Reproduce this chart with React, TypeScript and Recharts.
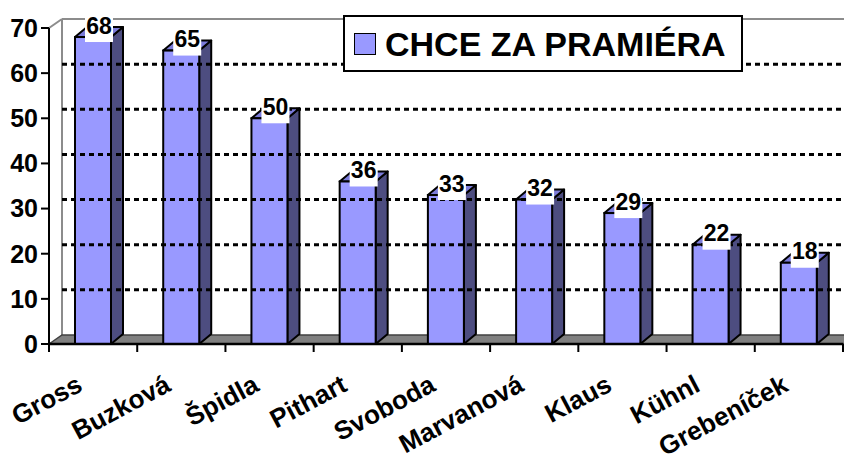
import React from 'react';
import { BarChart, Bar, XAxis, YAxis, ReferenceLine, ReferenceArea, LabelList, Legend } from 'recharts';

const categories = ['Gross', 'Buzková', 'Špidla', 'Pithart', 'Svoboda', 'Marvanová', 'Klaus', 'Kühnl', 'Grebeníček'];
const values = [68, 65, 50, 36, 33, 32, 29, 22, 18];
const yTicks = [0, 10, 20, 30, 40, 50, 60, 70];
const seriesName = 'CHCE ZA PRAMIÉRA';

const data = categories.map((name, i) => ({ name, value: values[i] }));

const FONT = '"Liberation Sans", Arial, sans-serif';
const FRONT = '#9999FF';
const SIDE = '#4D4D80';
const TOP = '#7B7BD9';
const WALL = '#8C8C8C';
const WDX = 13;
const WDY = 9;
const BDX = 12;
const BDY = 10;

const Bar3D = (props: any) => {
  const { x, y, width, height } = props;
  if (width == null || height == null) return null;
  const side = `${x + width},${y} ${x + width + BDX},${y - BDY} ${x + width + BDX},${y + height - BDY} ${x + width},${y + height}`;
  const top = `${x},${y} ${x + BDX},${y - BDY} ${x + width + BDX},${y - BDY} ${x + width},${y}`;
  return (
    <g>
      <polygon points={side} fill={SIDE} stroke="#000" strokeWidth={2} strokeLinejoin="round" />
      <polygon points={top} fill={TOP} stroke="#000" strokeWidth={2} strokeLinejoin="round" />
      <rect x={x} y={y} width={width} height={height} fill={FRONT} stroke="#000" strokeWidth={2} />
    </g>
  );
};

const WallsAndFloor = (props: any) => {
  const { x, y, width, height } = props;
  const n = categories.length;
  const bottom = y + height;
  const floor = `${x},${bottom} ${x + WDX},${bottom - WDY} ${x + width + WDX},${bottom - WDY} ${x + width},${bottom}`;
  const ticks = [];
  for (let k = 0; k <= n; k++) {
    const tx = x + (width * k) / n;
    ticks.push(<line key={k} x1={tx} y1={bottom} x2={tx} y2={bottom + 8} stroke="#000" strokeWidth={2} />);
  }
  return (
    <g>
      <line x1={x} y1={y} x2={x + WDX} y2={y - WDY} stroke={WALL} strokeWidth={2} />
      <line x1={x + WDX} y1={y - WDY} x2={x + width + WDX} y2={y - WDY} stroke={WALL} strokeWidth={2} />
      <line x1={x + WDX} y1={y - WDY} x2={x + WDX} y2={bottom - WDY} stroke={WALL} strokeWidth={2} />
      <polygon points={floor} fill="#808080" stroke="#404040" strokeWidth={1.5} />
      {ticks}
    </g>
  );
};

const GridBack = (props: any) => {
  const { x1, y1, x2, y2 } = props;
  if (x1 == null) return null;
  const a = Math.min(x1, x2);
  const b = Math.max(x1, x2);
  return (
    <line x1={a + WDX} y1={y1 - WDY} x2={b + WDX} y2={y2 - WDY} stroke="#000" strokeWidth={3} strokeDasharray="5 4" />
  );
};

const XTick = (props: any) => {
  const { x, y, payload } = props;
  const ax = x - 9;
  const ay = y + 46;
  return (
    <text
      x={ax}
      y={ay}
      transform={`rotate(-28, ${ax}, ${ay})`}
      textAnchor="end"
      fontSize={26}
      fontWeight="bold"
      fontFamily={FONT}
      fill="#000"
    >
      {payload.value}
    </text>
  );
};

const ValueLabel = (props: any) => {
  const { x, y, width, value } = props;
  const cx = x + width / 2 + 6;
  return (
    <g>
      <rect x={cx - 14} y={y - 24} width={28} height={29} fill="#fff" />
      <text x={cx} y={y - 3.5} textAnchor="middle" fontSize={23} fontWeight="bold" fontFamily={FONT} fill="#000">
        {value}
      </text>
    </g>
  );
};

const LegendBox = () => (
  <div
    style={{
      boxSizing: 'border-box',
      width: 400,
      height: 57,
      border: '2px solid #000',
      background: '#fff',
      display: 'flex',
      alignItems: 'center',
      paddingLeft: 9,
      fontFamily: FONT,
    }}
  >
    <div style={{ width: 22, height: 22, boxSizing: 'border-box', background: FRONT, border: '1.5px solid #000', marginRight: 9 }} />
    <span style={{ fontSize: 34, fontWeight: 'bold', color: '#000', lineHeight: 1 }}>{seriesName}</span>
  </div>
);

export default function App() {
  return (
    <div style={{ position: 'absolute', left: 0, top: 0, width: 844, height: 455, background: '#fff', fontFamily: FONT }}>
      <BarChart width={844} height={455} data={data} margin={{ top: 28, right: 1, bottom: 0, left: 0 }}>
        <ReferenceArea y1={0} y2={70} shape={WallsAndFloor} ifOverflow="visible" />
        {yTicks.filter((t) => t > 0 && t < 70).map((t) => (
          <ReferenceLine key={t} y={t} shape={GridBack} ifOverflow="visible" />
        ))}
        <XAxis
          dataKey="name"
          height={111}
          interval={0}
          tickLine={false}
          tickSize={0}
          tickMargin={0}
          axisLine={{ stroke: '#000', strokeWidth: 2.5 }}
          tick={XTick}
        />
        <YAxis
          width={49}
          domain={[0, 70]}
          ticks={yTicks}
          interval={0}
          tickSize={8}
          tickMargin={3}
          axisLine={{ stroke: '#000', strokeWidth: 2 }}
          tickLine={{ stroke: '#000', strokeWidth: 2 }}
          tick={{ fill: '#000', fontSize: 25, fontWeight: 'bold', fontFamily: FONT }}
        />
        <Legend
          layout="horizontal"
          verticalAlign="middle"
          align="center"
          wrapperStyle={{ left: 343, top: 15, width: 400, height: 57 }}
          content={LegendBox}
        />
        <Bar dataKey="value" name={seriesName} barSize={36} shape={Bar3D} isAnimationActive={false}>
          <LabelList dataKey="value" content={ValueLabel} />
        </Bar>
      </BarChart>
    </div>
  );
}
